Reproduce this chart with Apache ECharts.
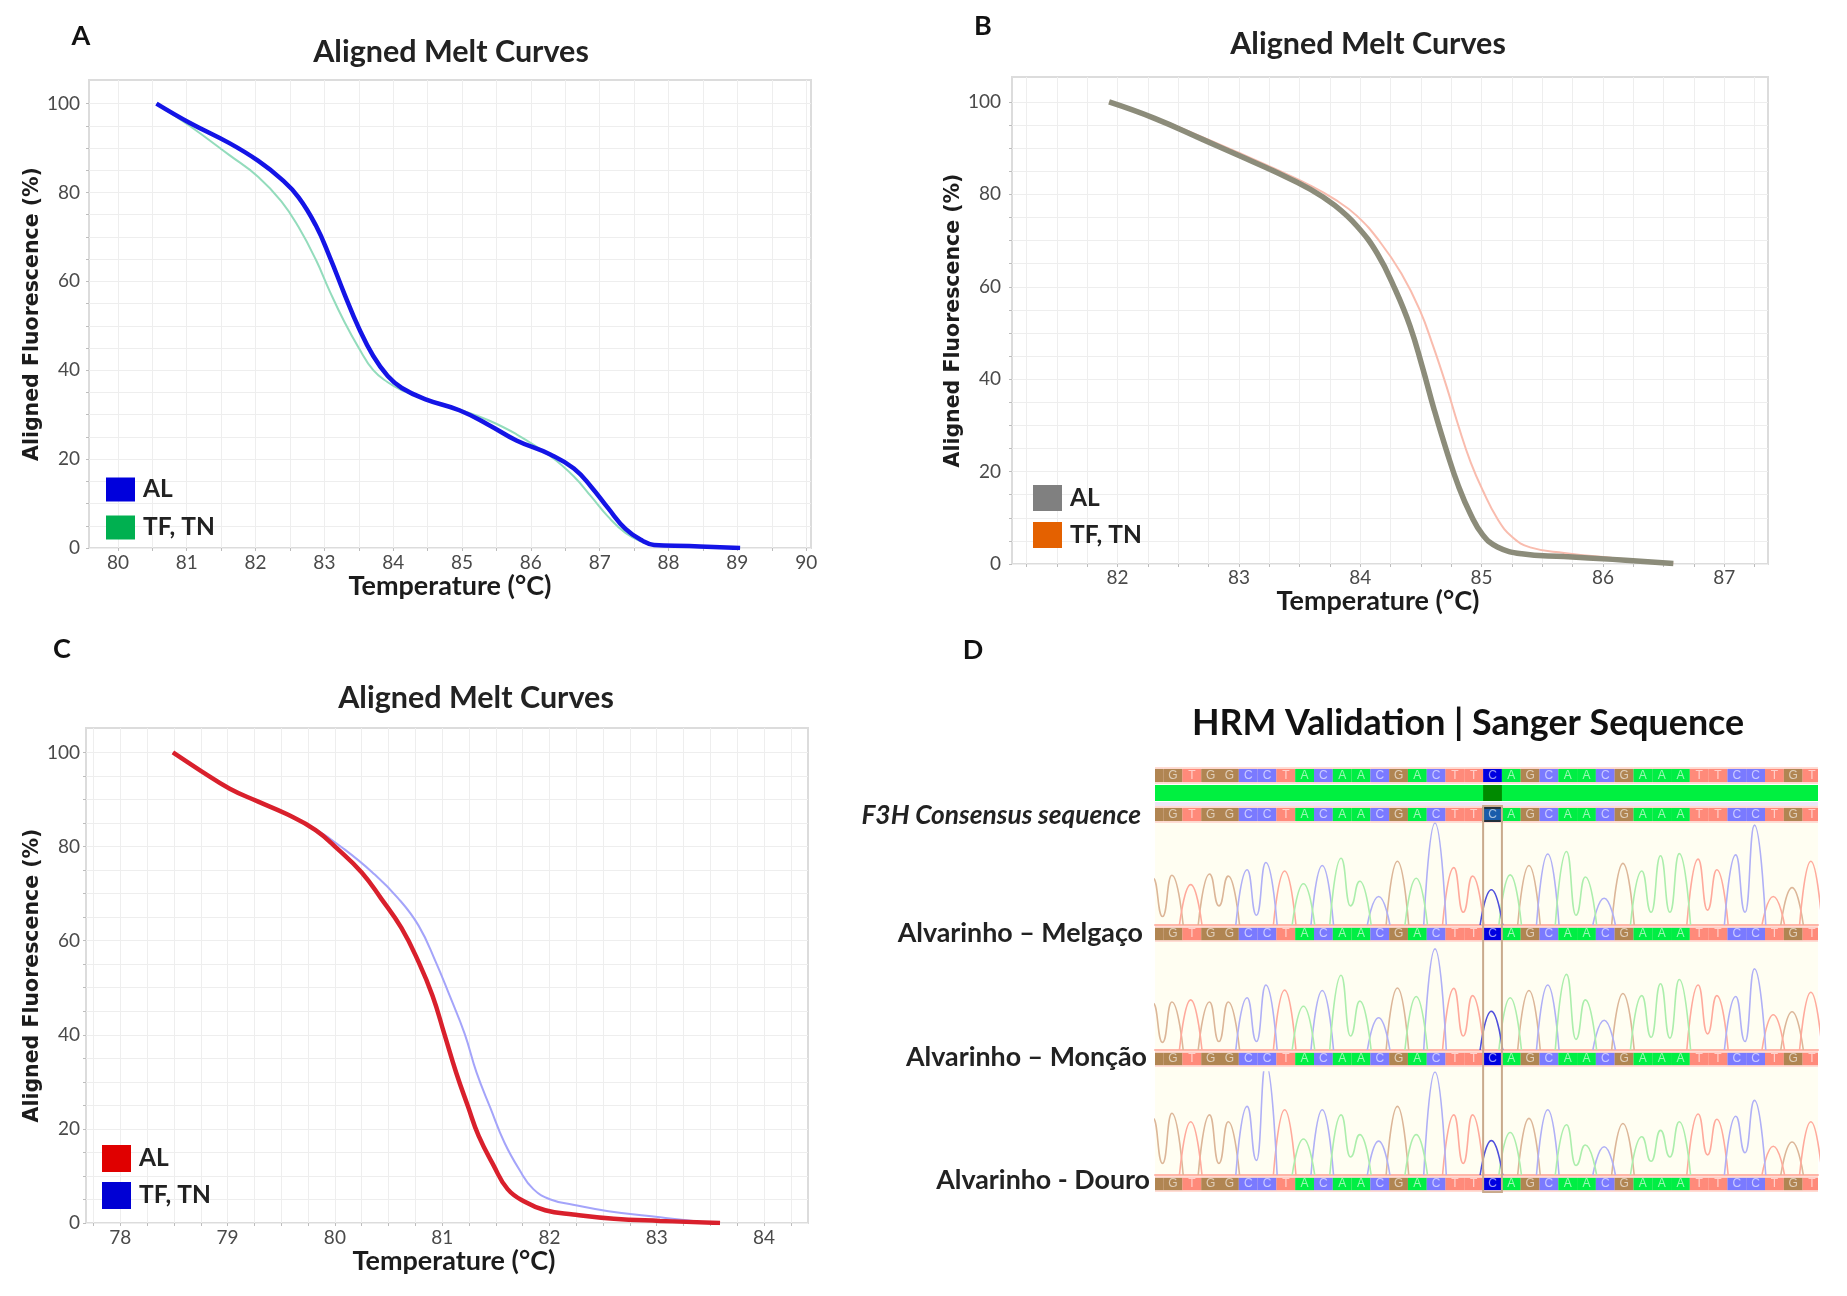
<!DOCTYPE html>
<html><head><meta charset="utf-8">
<style>html,body{margin:0;padding:0;background:#fff}#c{width:1847px;height:1296px;filter:blur(0.6px)}</style>
<script src="https://cdn.jsdelivr.net/npm/echarts@6/dist/echarts.min.js"></script>
</head><body><div id="c"></div>
<script>
// ---------- melt curves: [temperature °C, aligned fluorescence %]
const curveA_AL=[[80.56,100],[81.04,95.7],[81.62,91.1],[82.04,87.1],[82.375,83],[82.625,78.9],[82.875,72.6],[83.08,65.4],[83.29,57.2],[83.5,49.5],[83.71,43.2],[83.92,38.7],[84.125,36],[84.46,33.5],[84.96,31],[85.375,27.8],[85.79,24.2],[86.29,21],[86.625,17.9],[86.875,13.8],[87.125,8.9],[87.375,4.3],[87.625,1.6],[87.79,0.7],[88.3,0.45],[89.04,0]];
const curveA_TF=[[80.56,100],[81.04,95],[81.62,88.4],[82.04,83.5],[82.375,78],[82.625,72.2],[82.875,64.9],[83.08,57.7],[83.29,50.9],[83.5,45],[83.71,40],[83.92,37.3],[84.125,35.5],[84.46,33.6],[84.96,31.2],[85.375,28.8],[85.79,25.6],[86.29,20.6],[86.625,16.1],[86.875,11.6],[87.125,7],[87.375,3.4],[87.625,1.3],[87.79,0.7],[88.3,0.45],[89.04,0]];
const curveB_AL=[[81.93,100],[82.3,96.5],[82.7,91.9],[83,88.4],[83.29,85],[83.59,81.1],[83.79,77.6],[83.97,73.2],[84.14,67.2],[84.29,59.3],[84.41,51.5],[84.51,42.8],[84.61,33.3],[84.71,24.6],[84.81,16.8],[84.91,10.7],[85.01,6.3],[85.13,3.7],[85.33,2.2],[85.68,1.6],[86.08,1],[86.58,0.1]];
const curveB_TF=[[81.93,100],[82.3,96.7],[82.7,92.4],[83,89],[83.29,85.6],[83.59,81.9],[83.79,78.9],[83.97,75.4],[84.16,69.8],[84.34,62.8],[84.49,55],[84.6,47.2],[84.71,38.5],[84.81,29.8],[84.91,22],[85.01,15.9],[85.13,9.8],[85.25,5.9],[85.4,3.6],[85.68,2.4],[86.08,1.3],[86.58,0.1]];
const curveC_AL=[[78.49,100],[78.75,96.1],[79.02,92.3],[79.28,89.6],[79.55,86.9],[79.82,83.5],[80.03,79.4],[80.25,74.5],[80.43,69],[80.62,62.7],[80.78,55.5],[80.91,48.3],[81.02,40.2],[81.13,32],[81.24,24.8],[81.34,18.5],[81.48,12.2],[81.61,7.2],[81.77,4.5],[81.96,2.7],[82.22,1.8],[82.6,0.9],[83.03,0.45],[83.59,0]];
const curveC_TF=[[78.49,100],[78.75,96.1],[79.02,92.3],[79.28,89.6],[79.55,86.9],[79.82,83.7],[80.09,79.4],[80.35,74.5],[80.59,69],[80.78,63.2],[80.94,55.5],[81.07,48.3],[81.21,40.2],[81.32,32],[81.45,24.4],[81.58,17.1],[81.72,11.3],[81.85,7.2],[82.01,5],[82.22,3.9],[82.55,2.5],[83.03,1.2],[83.4,0.27],[83.59,0]];
const xLabelsA=[80,81,82,83,84,85,86,87,88,89,90];
const xLabelsB=[82,83,84,85,86,87];
const xLabelsC=[78,79,80,81,82,83,84];
const yLabels=[0,20,40,60,80,100];
const seriesNames=['AL','TF, TN'];
// ---------- Sanger traces
const bases=['G','G','T','G','G','C','C','T','A','C','A','A','C','G','A','C','T','T','C','A','G','C','A','A','C','G','A','A','A','T','T','C','C','T','G','T'];
const snpIndex=18;
const peaksMelgaco=[110,117,95,120,115,130,147,127,97,140,157,103,67,150,110,240,135,115,83,118,140,167,173,113,63,145,127,163,168,155,130,165,235,67,88,150];
const peaksMoncao=[110,113,118,113,113,123,153,141,103,140,176,115,76,146,126,238,145,128,91,123,140,153,178,118,70,133,128,156,166,153,128,126,191,83,90,136];
const peaksDouro=[132,144,124,140,124,160,260,152,84,152,140,94,79,160,94,240,140,140,80,99,132,152,117,70,66,120,89,104,124,142,130,137,174,67,77,124];
const valleyAfter=[0,3,5,10,16,22,26,27,29,31];
const valleysMelgaco=[20,45,23,45,30,23,30,30,35,30];
const valleysMoncao=[18,20,20,33,33,25,30,28,38,20];
const valleysDouro=[27,27,34,42,27,22,32,42,47,52];
const sampleLabels=['Alvarinho – Melgaço','Alvarinho – Monção','Alvarinho - Douro'];

// ---------- layout & style
const FONT='Lato';
const grids=[],xAxes=[],yAxes=[],series=[],titles=[],legends=[];
const range=(a,b,s)=>{const r=[];for(let v=a;v<=b+1e-9;v+=s)r.push(+v.toFixed(3));return r;};
function melt(p){
  const g=grids.length;
  grids.push({left:p.l,top:p.t,width:p.r-p.l,height:p.b-p.t,show:true,borderColor:'#dcdcdc',borderWidth:2,backgroundColor:'#fff'});
  xAxes.push({type:'value',gridIndex:g,min:p.xmin,max:p.xmax,name:'Temperature (°C)',nameLocation:'middle',nameGap:p.xGap,
    nameTextStyle:{fontFamily:FONT,fontWeight:700,fontSize:27,color:'#1c1c1c',padding:p.xNamePad},
    axisLine:{show:false},axisTick:{show:true,length:3,lineStyle:{color:'#bdbdbd'},customValues:range(p.tick0,p.tick1,p.step)},
    axisLabel:{customValues:p.xLabels,fontFamily:FONT,fontSize:19,color:'#4a4a4a',margin:p.xMargin},
    splitLine:{show:true,lineStyle:{color:'#eeeeee',width:1}}});
  yAxes.push({type:'value',gridIndex:g,min:0,max:p.ymax,name:'Aligned Fluorescence (%)',nameLocation:'middle',nameGap:p.yGap,
    nameTextStyle:{fontFamily:'"DejaVu Sans"',fontWeight:700,fontSize:20.5,color:'#1c1c1c'},
    axisLine:{show:false},axisTick:{show:true,length:3,lineStyle:{color:'#bdbdbd'},customValues:range(0,100,5)},
    axisLabel:{customValues:yLabels,fontFamily:FONT,fontSize:19,color:'#4a4a4a',margin:p.yMargin,padding:p.yPad},
    splitLine:{show:true,lineStyle:{color:'#eeeeee',width:1}}});
  series.push({type:'line',name:seriesNames[1],xAxisIndex:g,yAxisIndex:g,data:p.tf,smooth:0.45,showSymbol:false,lineStyle:{color:p.tfLine,width:p.tfW},itemStyle:{color:p.tfLine},z:p.tfZ});
  series.push({type:'line',name:seriesNames[0],xAxisIndex:g,yAxisIndex:g,data:p.al,smooth:0.45,showSymbol:false,lineStyle:{color:p.alLine,width:p.alW},itemStyle:{color:p.alLine},z:3});
  titles.push({text:'Aligned Melt Curves',left:p.tx,top:p.ty,padding:0,textAlign:'center',textVerticalAlign:'middle',textStyle:{fontFamily:FONT,fontWeight:700,fontSize:30.5,color:'#222'}});
  titles.push({text:p.letter,left:p.lx,top:p.ly,padding:0,textAlign:'center',textVerticalAlign:'middle',textStyle:{fontFamily:FONT,fontWeight:700,fontSize:27,color:'#111'}});
  legends.push({orient:'vertical',left:p.lgx,top:p.lgy,padding:0,itemWidth:29,itemHeight:p.lgh,itemGap:p.lgg,selectedMode:false,icon:'rect',
    textStyle:{fontFamily:FONT,fontWeight:700,fontSize:24.5,color:'#222',padding:[0,0,0,3]},
    data:[{name:seriesNames[0],icon:'rect',itemStyle:{color:p.alKey,borderWidth:0}},{name:seriesNames[1],icon:'rect',itemStyle:{color:p.tfKey,borderWidth:0}}]});
}
melt({l:89,r:811,t:80,b:548,xmin:79.58,xmax:90.07,ymax:105.3,tick0:80,tick1:90,step:0.5,xLabels:xLabelsA,xGap:24,xNamePad:0,yGap:36,xMargin:5,yMargin:9,yPad:[0,0,2,0],
  al:curveA_AL,tf:curveA_TF,alLine:'#1414e6',alW:4.5,tfLine:'#93dcbc',tfW:2,tfZ:2,alKey:'#0000dc',tfKey:'#00b050',
  tx:451,ty:52,letter:'A',lx:81,ly:36,lgx:106,lgy:477,lgh:24,lgg:13});
melt({l:1012,r:1768,t:77,b:564,xmin:81.13,xmax:87.36,ymax:105.4,tick0:81.25,tick1:87.25,step:0.25,xLabels:xLabelsB,xGap:20,xNamePad:[0,24,0,0],yGap:43,xMargin:4,yMargin:11,yPad:[0,0,5,0],
  al:curveB_AL,tf:curveB_TF,alLine:'#8c8c7a',alW:5.5,tfLine:'#f9bcae',tfW:2,tfZ:2,alKey:'#808080',tfKey:'#e46100',
  tx:1368,ty:44,letter:'B',lx:983,ly:26,lgx:1033,lgy:485,lgh:26,lgg:11});
melt({l:86,r:808,t:728,b:1223,xmin:77.68,xmax:84.41,ymax:105.2,tick0:77.75,tick1:84.25,step:0.25,xLabels:xLabelsC,xGap:22,xNamePad:[0,0,0,14],yGap:33,xMargin:5,yMargin:6,yPad:[0,0,3,0],
  al:curveC_AL,tf:curveC_TF,alLine:'#d9202c',alW:4.5,tfLine:'#a4a4fa',tfW:2,tfZ:2,alKey:'#e00000',tfKey:'#0000d4',
  tx:476,ty:698,letter:'C',lx:62,ly:649,lgx:102,lgy:1145,lgh:27,lgg:10});

// ---------- panel D
const DL=1155,DR=1818,Dmin=0.1,Dmax=35.38;
const baseColor={G:'#b08552',T:'#ff8a7a',C:'#7a7aff',A:'#00ee44'};
const traceColor={G:'#dcb698',T:'#ffaa9c',C:'#b0b0f6',A:'#aceeac'};
function dGrid(top,height,bg,ymin,ymax,axisColor){
  const g=grids.length;
  grids.push({left:DL,width:DR-DL,top,height,show:!!bg,backgroundColor:bg||'transparent',borderWidth:0});
  xAxes.push({type:'value',gridIndex:g,min:Dmin,max:Dmax,show:!!axisColor,axisLine:{show:!!axisColor,onZero:true,lineStyle:{color:axisColor||'#000',width:2}},axisTick:{show:false},axisLabel:{show:false},splitLine:{show:false}});
  yAxes.push({type:'value',gridIndex:g,min:ymin,max:ymax,show:false,splitLine:{show:false}});
  return g;
}
dGrid(822,356,'#fffef2',0,1);
function band(top,height,snpFill,snpBorder){
  const g=dGrid(top-2,height+4,'#ffdcd4',-0.15,1.15);
  series.push({type:'custom',xAxisIndex:g,yAxisIndex:g,data:bases.map((b,i)=>[i,0]),z:3,silent:true,
    renderItem:(params,api)=>{
      const i=api.value(0),cs=params.coordSys;
      const a=api.coord([i-0.44,1]),b=api.coord([i+0.56,0]);
      const r=echarts.graphic.clipRectByRect({x:a[0],y:a[1],width:b[0]-a[0],height:b[1]-a[1]},{x:cs.x,y:cs.y,width:cs.width,height:cs.height});
      if(!r)return;
      const isSnp=i===snpIndex;
      const kids=[{type:'rect',shape:r,style:{fill:isSnp?snpFill:baseColor[bases[i]],stroke:isSnp&&snpBorder?snpBorder:null,lineWidth:isSnp&&snpBorder?2:0}}];
      if(i>0)kids.push({type:'text',style:{x:a[0]+(b[0]-a[0])/2,y:a[1]+(b[1]-a[1])/2,text:bases[i],fill:'rgba(255,255,255,0.6)',font:'12px "Liberation Sans"',align:'center',verticalAlign:'middle'}});
      return {type:'group',children:kids};
    }});
}
band(769,13,'#0000e0');
// agreement bar between the two consensus rows
(function(){
  const g=dGrid(785,16,'#00f040',0,1);
  series.push({type:'custom',xAxisIndex:g,yAxisIndex:g,data:[[snpIndex,0]],z:3,silent:true,renderItem:(params,api)=>{
    const i=api.value(0),a=api.coord([i-0.44,1]),b=api.coord([i+0.56,0]);
    return {type:'rect',shape:{x:a[0],y:a[1],width:b[0]-a[0],height:b[1]-a[1]},style:{fill:'#008a00'}};
  }});
  dGrid(802,4,'#ece6f6',0,1);
})();
band(808,13,'#1a5cab','#22303c');
function trace(top,base,peaks,valleys){
  const g=dGrid(top,base-top,null,0,240,'#ffb6a8');
  const groups={G:[],T:[],C:[],A:[],snp:[]};
  const vAfter=i=>{const k=valleyAfter.indexOf(i);return k<0?null:valleys[k];};
  bases.forEach((b,i)=>{
    const key=i===snpIndex?'snp':b,d=groups[key];
    const vPrev=vAfter(i-1),vNext=vAfter(i);
    if(vPrev===null)d.push([i-0.6,0]);
    d.push([i,peaks[i]]);
    if(vNext===null){d.push([i+0.6,0]);d.push([NaN,NaN]);}
    else d.push([i+0.5,vNext]);
  });
  Object.keys(groups).forEach(k=>{
    series.push({type:'line',xAxisIndex:g,yAxisIndex:g,data:groups[k],showSymbol:false,smooth:0.55,smoothMonotone:'x',connectNulls:false,silent:true,z:k==='snp'?4:2,
      lineStyle:{color:k==='snp'?'#5050dc':traceColor[k],width:1.6}});
  });
}
trace(823,925,peaksMelgaco,valleysMelgaco);
band(928,12,'#0000e0');
trace(948,1050,peaksMoncao,valleysMoncao);
band(1053,12,'#0000e0');
trace(1072,1175,peaksDouro,valleysDouro);
band(1178,12,'#0000e0');
// highlighted column
(function(){
  const g=dGrid(806,386,null,0,1);
  series.push({type:'custom',xAxisIndex:g,yAxisIndex:g,data:[[snpIndex,0]],z:6,silent:true,renderItem:(params,api)=>{
    const i=api.value(0),a=api.coord([i-0.44,1]),b=api.coord([i+0.56,0]);
    return {type:'rect',shape:{x:a[0],y:a[1],width:b[0]-a[0],height:b[1]-a[1]},style:{fill:'none',stroke:'#c9aa8c',lineWidth:2}};
  }});
})();
const dLabel=(text,right,y,italic)=>titles.push({text,left:right,top:y,padding:0,textAlign:'right',textVerticalAlign:'middle',textStyle:{fontFamily:FONT,fontWeight:700,fontStyle:italic?'italic':'normal',fontSize:italic?26.3:26.8,color:'#222'}});
titles.push({text:'D',left:973,top:650,padding:0,textAlign:'center',textVerticalAlign:'middle',textStyle:{fontFamily:FONT,fontWeight:700,fontSize:27,color:'#111'}});
titles.push({text:'HRM Validation | Sanger Sequence',left:1468,top:723,padding:0,textAlign:'center',textVerticalAlign:'middle',textStyle:{fontFamily:FONT,fontWeight:700,fontSize:35.8,color:'#111'}});
dLabel('F3H Consensus sequence',1141,816,true);
dLabel(sampleLabels[0],1143,933,false);
dLabel(sampleLabels[1],1147,1057,false);
dLabel(sampleLabels[2],1150,1180,false);

const chart=echarts.init(document.getElementById('c'),null,{renderer:'canvas'});
chart.setOption({animation:false,backgroundColor:'#fff',title:titles,legend:legends,grid:grids,xAxis:xAxes,yAxis:yAxes,series});
</script></body></html>
